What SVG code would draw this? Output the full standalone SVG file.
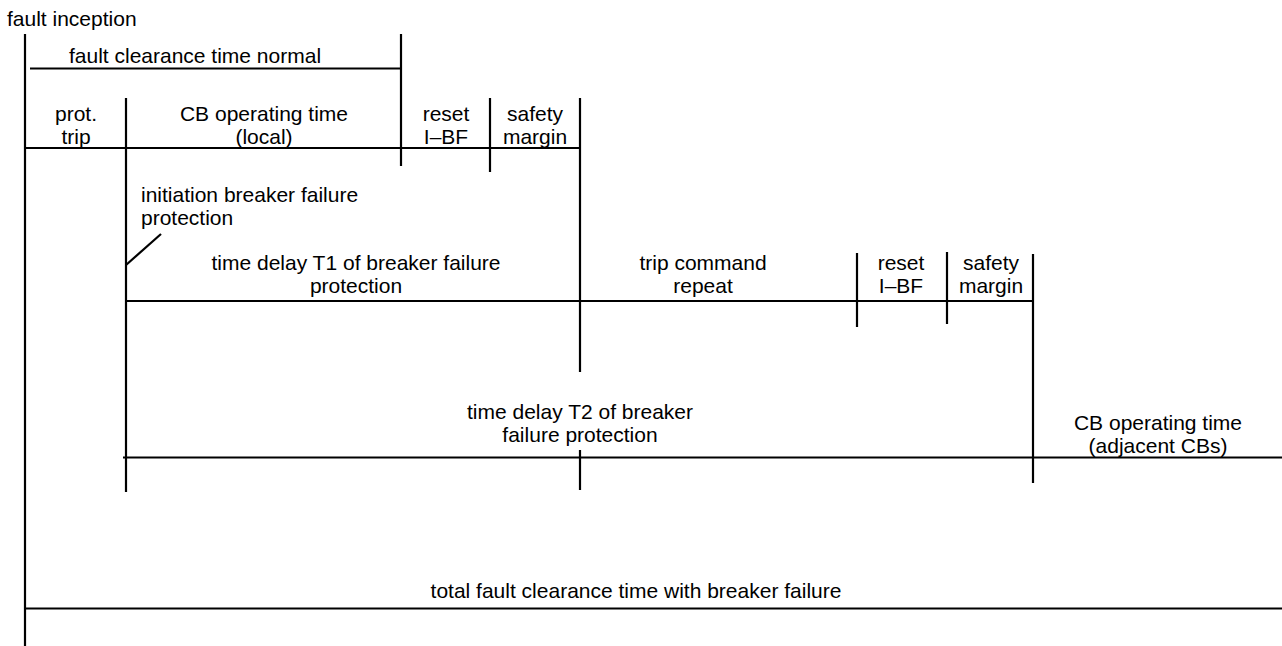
<svg xmlns="http://www.w3.org/2000/svg" width="1282" height="646" viewBox="0 0 1282 646">
<style>
.l{stroke:#000;stroke-width:2.2;fill:none}
text{font-family:"Liberation Sans",Arial,sans-serif;font-size:21px;fill:#000}
.c{text-anchor:middle}
</style>
<rect width="1282" height="646" fill="#fff"/>
<g id="connectors">
<line class="l" x1="25" y1="34" x2="25" y2="646"/>
<line class="l" x1="30" y1="68.5" x2="401" y2="68.5"/>
<line class="l" x1="401" y1="34" x2="401" y2="166"/>
<line class="l" x1="25" y1="148" x2="580" y2="148"/>
<line class="l" x1="126" y1="98" x2="126" y2="492"/>
<line class="l" x1="490" y1="98" x2="490" y2="172"/>
<line class="l" x1="580" y1="98" x2="580" y2="372"/>
<line class="l" x1="580" y1="450" x2="580" y2="490"/>
<line class="l" x1="126" y1="265" x2="161" y2="234"/>
<line class="l" x1="126" y1="301" x2="1033" y2="301"/>
<line class="l" x1="857" y1="253" x2="857" y2="327"/>
<line class="l" x1="947" y1="252" x2="947" y2="324"/>
<line class="l" x1="1033" y1="254" x2="1033" y2="483"/>
<line class="l" x1="123" y1="457.5" x2="1282" y2="457.5"/>
<line class="l" x1="25" y1="608.5" x2="1282" y2="608.5"/>
</g>
<g id="fault-inception"><text x="7" y="26">fault inception</text></g>
<g id="fault-clearance-normal"><text class="c" x="195" y="63">fault clearance time normal</text></g>
<g id="prot-trip"><text class="c" x="76" y="121">prot.</text><text class="c" x="76" y="144">trip</text></g>
<g id="cb-local"><text class="c" x="264" y="121">CB operating time</text><text class="c" x="264" y="144">(local)</text></g>
<g id="reset1"><text class="c" x="446" y="121">reset</text><text class="c" x="446" y="144">I–BF</text></g>
<g id="safety1"><text class="c" x="535" y="121">safety</text><text class="c" x="535" y="144">margin</text></g>
<g id="initiation"><text x="141" y="202">initiation breaker failure</text><text x="141" y="225">protection</text></g>
<g id="t1"><text class="c" x="356" y="270">time delay T1 of breaker failure</text><text class="c" x="356" y="293">protection</text></g>
<g id="trip-repeat"><text class="c" x="703" y="270">trip command</text><text class="c" x="703" y="293">repeat</text></g>
<g id="reset2"><text class="c" x="901" y="270">reset</text><text class="c" x="901" y="293">I–BF</text></g>
<g id="safety2"><text class="c" x="991" y="270">safety</text><text class="c" x="991" y="293">margin</text></g>
<g id="t2"><text class="c" x="580" y="419">time delay T2 of breaker</text><text class="c" x="580" y="442">failure protection</text></g>
<g id="cb-adjacent"><text class="c" x="1158" y="430">CB operating time</text><text class="c" x="1158" y="453">(adjacent CBs)</text></g>
<g id="total"><text class="c" x="636" y="598">total fault clearance time with breaker failure</text></g>
</svg>
